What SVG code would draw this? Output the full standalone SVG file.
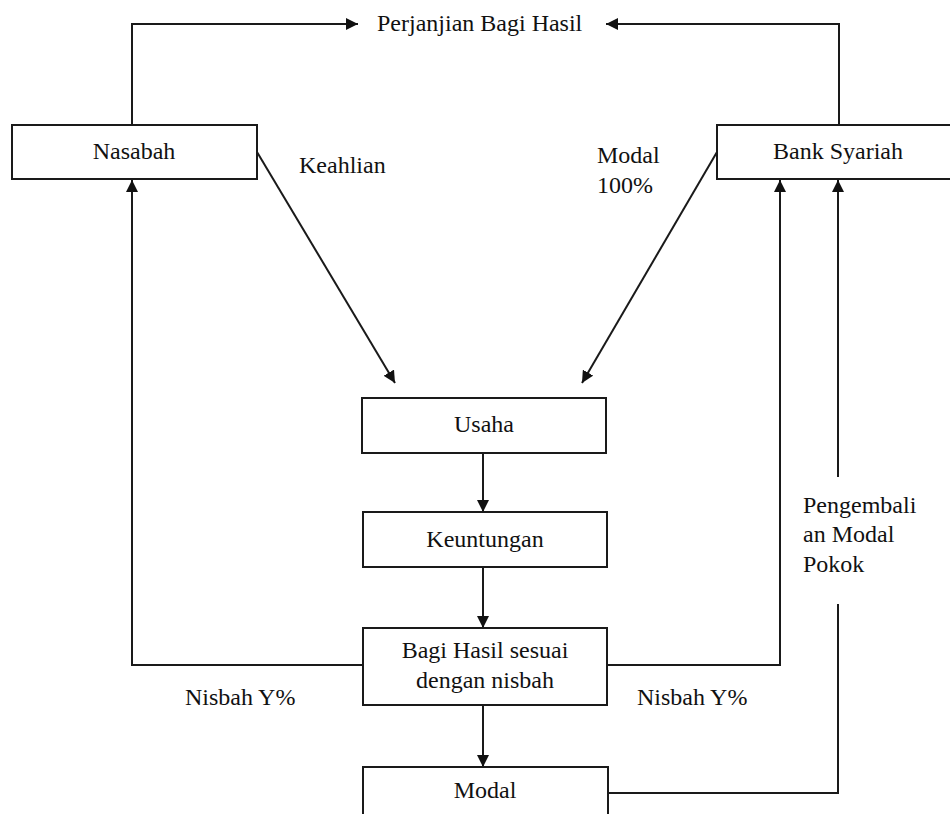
<svg xmlns="http://www.w3.org/2000/svg" width="950" height="814" viewBox="0 0 950 814">
<style>
  .box { fill: #ffffff; stroke: #1a1a1a; stroke-width: 2; }
  .ln { fill: none; stroke: #1a1a1a; stroke-width: 2; }
  text { font-family: 'Liberation Serif', 'Times New Roman', 'DejaVu Serif', serif; font-size: 24px; fill: #111; }
  .c { text-anchor: middle; }
</style>
<defs>
  <marker id="ah" viewBox="0 0 10 10" refX="10" refY="5" markerWidth="6" markerHeight="6" orient="auto" markerUnits="strokeWidth">
    <path d="M0,0 L10,5 L0,10 z" fill="#111"/>
  </marker>
</defs>
<rect width="950" height="814" fill="#ffffff"/>

<g id="connectors">
  <path class="ln" d="M132,125 V24 H358" marker-end="url(#ah)"/>
  <path class="ln" d="M839,125 V24 H606" marker-end="url(#ah)"/>
  <path class="ln" d="M257,152 L395,383" marker-end="url(#ah)"/>
  <path class="ln" d="M717,152 L582,383" marker-end="url(#ah)"/>
  <path class="ln" d="M483,453 V512" marker-end="url(#ah)"/>
  <path class="ln" d="M483,567 V628" marker-end="url(#ah)"/>
  <path class="ln" d="M483,705 V767" marker-end="url(#ah)"/>
  <path class="ln" d="M363,665 H132 V180" marker-end="url(#ah)"/>
  <path class="ln" d="M607,665 H780 V180" marker-end="url(#ah)"/>
  <path class="ln" d="M608,793 H838 V604"/>
  <path class="ln" d="M838,477 V180" marker-end="url(#ah)"/>
</g>

<g id="labels">
  <text x="377" y="31">Perjanjian Bagi Hasil</text>
  <text x="299" y="173">Keahlian</text>
  <text x="597" y="163">Modal</text>
  <text x="597" y="193">100%</text>
  <text x="803" y="513">Pengembali</text>
  <text x="803" y="542">an Modal</text>
  <text x="803" y="572">Pokok</text>
  <text x="185" y="705">Nisbah Y%</text>
  <text x="637" y="705">Nisbah Y%</text>
</g>

<g id="nasabah">
  <rect class="box" x="12" y="125" width="245" height="54"/>
  <text class="c" x="134" y="159">Nasabah</text>
</g>
<g id="bank-syariah">
  <rect class="box" x="717" y="125" width="245" height="54"/>
  <text class="c" x="838" y="159">Bank Syariah</text>
</g>
<g id="usaha">
  <rect class="box" x="362" y="398" width="244" height="55"/>
  <text class="c" x="484" y="432">Usaha</text>
</g>
<g id="keuntungan">
  <rect class="box" x="363" y="512" width="244" height="55"/>
  <text class="c" x="485" y="547">Keuntungan</text>
</g>
<g id="bagi-hasil">
  <rect class="box" x="363" y="628" width="244" height="77"/>
  <text class="c" x="485" y="658">Bagi Hasil sesuai</text>
  <text class="c" x="485" y="688">dengan nisbah</text>
</g>
<g id="modal">
  <rect class="box" x="363" y="767" width="245" height="60"/>
  <text class="c" x="485" y="798">Modal</text>
</g>
</svg>
